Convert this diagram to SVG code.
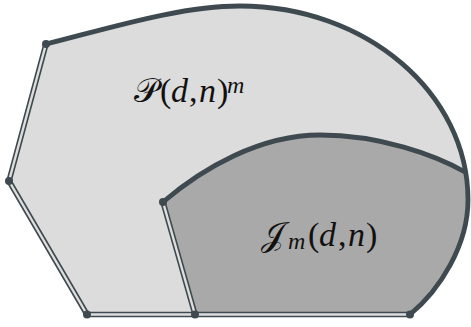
<svg xmlns="http://www.w3.org/2000/svg" width="471" height="327" viewBox="0 0 471 327">
<style>
.thick{fill:none;stroke:#3e4a50;stroke-width:4.8;stroke-linecap:round}
.dbl-o{fill:none;stroke:#3e4a50;stroke-width:5.6;stroke-linecap:butt;stroke-linejoin:round}
.dbl-i{fill:none;stroke:#dedede;stroke-width:2.4;stroke-linecap:butt;stroke-linejoin:round}
.dot{fill:#3e4a50}
.lbl{font-family:"Liberation Serif","DejaVu Serif",serif;font-size:34px;fill:#111}
.it{font-style:italic}
.cal{font-family:"DejaVu Sans","Noto Sans",serif}
.sc{font-style:italic;font-size:24px}
</style>
<g id="outer">
<path d="M46,44 C110,28 180,6 240,6 C366,6 468,93 468,200 C468,245 440,290 410,314.5 L195,314.5 L87,314.5 L9,181 Z" fill="#dcdcdc"/>
</g>
<g id="inner">
<path d="M163,202 C203,168 260,135 320,135 C380,135 435,155 465,172 C467,180 468,190 468,200 C468,245 440,290 410,314.5 L195,314.5 Z" fill="#a9a9a9"/>
</g>
<g id="edges">
<path class="thick" d="M46,44 C110,28 180,6 240,6 C366,6 468,93 468,200 C468,245 440,290 410,314.5"/>
<path class="thick" d="M163,202 C203,168 260,135 320,135 C380,135 435,155 465,172"/>
<path class="dbl-o" d="M46,44 L9,181 L87,314.5 L410,314.5"/>
<path class="dbl-i" d="M46,44 L9,181 L87,314.5 L410,314.5"/>
<path class="dbl-o" d="M163,202 L195,314.5"/>
<path class="dbl-i" d="M163,202 L195,314.5"/>
<circle class="dot" cx="46" cy="44" r="4"/>
<circle class="dot" cx="9" cy="181" r="4"/>
<circle class="dot" cx="87" cy="314.5" r="4"/>
<circle class="dot" cx="195" cy="314.5" r="4"/>
<circle class="dot" cx="410" cy="314.5" r="4"/>
<circle class="dot" cx="163" cy="202" r="4"/>
</g>
<g id="label-P">
<text class="lbl" y="102"><tspan class="cal" x="134">𝒫</tspan><tspan x="160">(</tspan><tspan class="it" x="171">d</tspan><tspan x="189">,</tspan><tspan class="it" x="199">n</tspan><tspan x="217">)</tspan><tspan class="sc" x="227" y="93">m</tspan></text>
</g>
<g id="label-J">
<text class="lbl" y="246"><tspan class="cal" x="261">𝒥</tspan><tspan class="sc" x="288" y="249">m</tspan><tspan x="308" y="246">(</tspan><tspan class="it" x="319">d</tspan><tspan x="338">,</tspan><tspan class="it" x="348">n</tspan><tspan x="366">)</tspan></text>
</g>
</svg>
